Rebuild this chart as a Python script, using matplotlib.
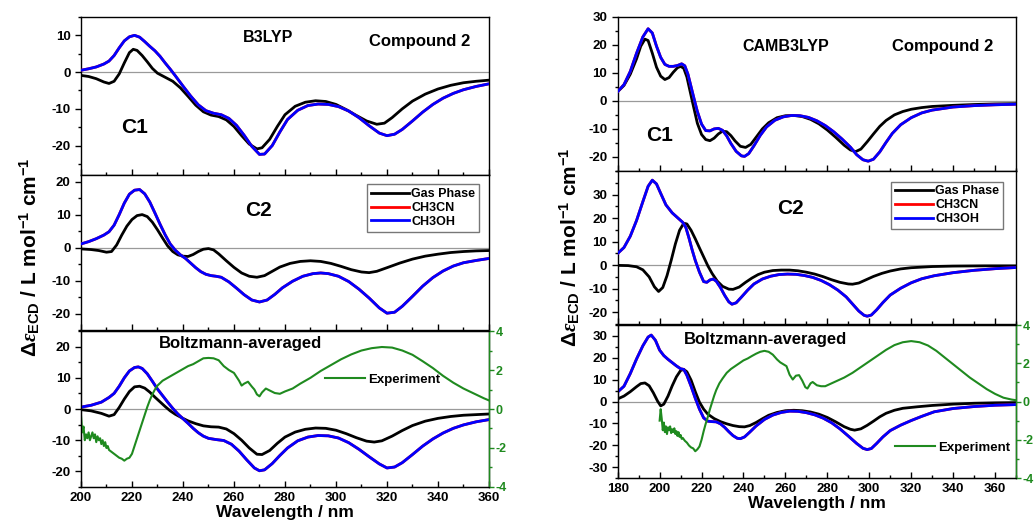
import numpy as np
import matplotlib
matplotlib.use('Agg')
import matplotlib.pyplot as plt
from matplotlib.ticker import MultipleLocator

plt.rcParams['font.family'] = ['Liberation Sans', 'DejaVu Sans']
plt.rcParams['font.weight'] = 'bold'
plt.rcParams['axes.unicode_minus'] = False
plt.rcParams['mathtext.fontset'] = 'custom'
plt.rcParams['mathtext.rm'] = 'Liberation Sans:bold'
plt.rcParams['mathtext.bf'] = 'Liberation Sans:bold'
plt.rcParams['mathtext.it'] = 'Liberation Serif:italic'

# ---------------- B3LYP (left) ----------------
# C1
b3_c1_gas_x = [200, 203, 206, 209, 211, 213, 215, 217, 219, 220.5, 222, 224, 226, 228, 230, 233, 236, 239,
               242, 245, 248, 251, 254, 257, 260, 263, 266, 269, 271, 274, 277, 280, 284, 288, 292, 296,
               300, 304, 308, 312, 316, 319, 322, 326, 330, 335, 340, 345, 350, 355, 360]
b3_c1_gas_y = [-0.9, -1.2, -1.8, -2.7, -3.1, -2.5, -0.5, 2.5, 5.3, 6.2, 5.9, 4.5, 2.8, 1.0, -0.3, -1.4, -2.5, -4.3,
               -6.6, -9.0, -10.8, -11.7, -12.1, -13.0, -14.8, -17.3, -19.6, -20.9, -20.6, -18.3, -14.8, -11.6, -9.3, -8.2, -7.8, -8.0,
               -8.8, -10.2, -11.8, -13.3, -14.2, -13.9, -12.4, -10.0, -7.9, -6.0, -4.6, -3.6, -2.9, -2.5, -2.2]
b3_c1_sol_x = [200, 203, 206, 209, 211, 213, 215, 217, 219, 221, 223, 225, 227, 229, 231, 233, 235, 237, 240,
               243, 246, 249, 252, 255, 258, 261, 264, 267, 270, 272, 275, 278, 281, 285, 289, 293, 297,
               301, 305, 309, 313, 317, 320, 323, 326, 330, 334, 338, 342, 346, 350, 355, 360]
b3_c1_sol_y = [0.5, 0.9, 1.4, 2.2, 3.0, 4.5, 6.6, 8.5, 9.6, 10.0, 9.5, 8.3, 7.0, 5.8, 4.3, 2.5, 0.8, -1.0, -3.8,
               -6.5, -8.9, -10.5, -11.2, -11.6, -12.6, -14.5, -17.2, -20.2, -22.4, -22.3, -20.0, -16.3, -12.9, -10.4, -9.1, -8.7, -8.8,
               -9.4, -10.6, -12.4, -14.6, -16.6, -17.3, -16.9, -15.6, -13.3, -10.9, -8.8, -7.1, -5.8, -4.8, -3.9, -3.2]
# C2
b3_c2_gas_x = [200, 204, 207, 210, 212, 214, 216, 218, 220, 222, 224, 226, 228, 230, 232, 234, 236, 238, 240,
               242, 244, 246, 248, 250, 252, 254, 257, 260, 263, 266, 269, 272, 275, 278, 282, 286, 290, 294,
               298, 302, 306, 310, 313, 316, 320, 325, 330, 335, 340, 345, 350, 355, 360]
b3_c2_gas_y = [-0.4, -0.6, -0.9, -1.4, -1.2, 0.8, 3.8, 6.5, 8.5, 9.7, 10.0, 9.4, 7.7, 5.4, 2.9, 0.5, -1.2, -2.2, -2.6,
               -2.7, -2.1, -1.2, -0.5, -0.3, -0.7, -1.9, -4.0, -6.0, -7.7, -8.7, -9.0, -8.5, -7.2, -5.9, -4.8, -4.2, -4.0, -4.2,
               -4.8, -5.7, -6.7, -7.4, -7.6, -7.2, -6.1, -4.7, -3.5, -2.6, -2.0, -1.5, -1.2, -1.0, -0.9]
b3_c2_sol_x = [200, 203, 206, 209, 211, 213, 215, 217, 219, 221, 223, 225, 227, 229, 231, 233, 235, 237, 239,
               241, 243, 245, 247, 249, 251, 253, 255, 258, 261, 264, 267, 270, 273, 276, 279, 283, 287, 291,
               294, 297, 301, 305, 309, 313, 317, 320, 323, 326, 330, 334, 338, 342, 346, 350, 355, 360]
b3_c2_sol_y = [1.1, 1.8, 2.7, 3.8, 4.8, 6.8, 10.0, 13.5, 16.2, 17.4, 17.6, 16.3, 13.8, 10.5, 7.1, 3.9, 1.1, -0.8, -2.2,
               -3.3, -4.7, -6.1, -7.3, -8.1, -8.5, -8.7, -9.0, -10.4, -12.3, -14.3, -15.9, -16.5, -15.9, -14.2, -12.2, -10.2, -8.7, -7.9,
               -7.7, -7.9, -8.7, -10.3, -12.6, -15.3, -18.3, -19.9, -19.6, -17.8, -14.8, -11.7, -9.1, -7.1, -5.6, -4.6, -3.9, -3.3]
# Boltzmann-averaged
b3_avg_gas_x = [200, 204, 208, 211, 213, 215, 217, 219, 221, 223, 225, 227, 229, 231, 233, 235, 237, 239.5,
                242, 245, 248, 251, 254, 257, 260, 263, 266, 269, 271, 274, 277, 280, 284, 288, 292, 296,
                300, 304, 308, 312, 315, 318, 322, 326, 330, 335, 340, 345, 350, 355, 360]
b3_avg_gas_y = [-0.2, -0.6, -1.4, -2.3, -1.8, 0.5, 3.2, 5.6, 7.1, 7.3, 6.7, 5.4, 3.8, 2.3, 0.8, -0.6, -1.7, -2.8,
                -3.8, -4.7, -5.4, -5.7, -5.8, -6.4, -7.9, -10.0, -12.5, -14.5, -14.6, -13.3, -11.0, -9.0, -7.4, -6.5, -6.1, -6.2,
                -6.8, -7.9, -9.2, -10.3, -10.6, -10.2, -8.7, -6.9, -5.3, -3.9, -3.0, -2.4, -2.0, -1.8, -1.6]
b3_avg_sol_x = [200, 204, 208, 211, 213, 215, 217, 219, 221, 222.5, 224, 226, 228, 230, 232, 234, 236, 238, 240,
                242, 244, 246, 248, 250, 253, 256, 259, 262, 265, 268, 270, 272, 275, 278, 281, 285, 289, 293,
                297, 301, 305, 309, 313, 317, 320, 323, 326, 330, 334, 338, 342, 346, 350, 355, 360]
b3_avg_sol_y = [0.6, 1.2, 2.2, 3.7, 5.0, 7.3, 10.0, 12.2, 13.3, 13.5, 13.0, 11.3, 8.9, 6.4, 4.3, 2.2, 0.2, -1.6, -3.1,
                -4.6, -6.2, -7.6, -8.7, -9.4, -9.8, -10.1, -11.3, -13.5, -16.3, -18.9, -19.8, -19.5, -17.5, -14.9, -12.5, -10.2, -9.0, -8.5,
                -8.6, -9.3, -10.8, -12.9, -15.3, -17.6, -18.9, -18.6, -17.2, -14.6, -11.9, -9.6, -7.7, -6.2, -5.1, -4.1, -3.4]
b3_exp_x = [200, 200.5, 201, 201.5, 202, 202.5, 203, 203.5, 204, 204.5, 205, 205.5, 206, 206.5, 207, 207.5, 208,
            208.5, 209, 209.5, 210, 210.5, 211, 212, 213, 214, 215, 216, 217, 218, 219, 220, 221, 222, 223, 224,
            225, 226, 227, 228, 229, 230, 232, 234, 236, 238, 240, 242, 244, 246, 248, 250, 252, 254, 256, 258,
            260, 262, 263, 264, 265.5, 267, 268, 269, 270, 271, 272.5, 274, 276, 278, 280, 283, 286, 290, 294,
            298, 302, 306, 310, 314, 318, 322, 326, 330, 334, 338, 342, 346, 350, 354, 358, 360]
b3_exp_y = [-0.3, -1.2, -0.9, -1.6, -1.3, -1.5, -1.2, -1.6, -1.4, -1.2, -1.5, -1.3, -1.7, -1.4, -1.6, -1.5, -1.8,
            -1.6, -1.9, -1.7, -2.0, -1.9, -2.1, -2.2, -2.3, -2.4, -2.5, -2.55, -2.65, -2.55, -2.5, -2.3, -1.9, -1.5, -1.1, -0.7,
            -0.3, 0.1, 0.45, 0.75, 1.0, 1.2, 1.45, 1.6, 1.75, 1.9, 2.05, 2.2, 2.3, 2.45, 2.6, 2.62, 2.6, 2.5, 2.2, 2.0,
            1.85, 1.45, 1.2, 1.3, 1.4, 1.15, 1.0, 0.75, 0.65, 0.85, 1.05, 0.95, 0.82, 0.78, 0.9, 1.05, 1.3, 1.6, 1.95,
            2.25, 2.55, 2.8, 3.0, 3.12, 3.18, 3.15, 3.0, 2.78, 2.45, 2.1, 1.7, 1.35, 1.05, 0.8, 0.55, 0.44]

# ---------------- CAMB3LYP (right) ----------------
cam_c1_gas_x = [180, 183, 186, 189, 191, 193, 194.5, 196.5, 198.5, 200.5, 202.5, 204.5, 206.5, 208.5, 210, 211.5,
                213, 214.5, 216, 218, 220, 222, 224, 226, 228, 230, 232, 234, 236, 238.5, 241, 243.5, 246, 249,
                252, 256, 260, 264, 268, 272, 276, 280, 284, 288, 291, 293.5, 296, 299, 302, 305, 308, 312, 316,
                320, 325, 330, 340, 350, 360, 370]
cam_c1_gas_y = [3.3, 5.5, 9.5, 15.0, 19.5, 22.0, 21.5, 17.0, 12.0, 8.8, 7.6, 8.3, 10.2, 11.8, 12.3, 11.6,
                8.5, 3.5, -1.5, -8.0, -12.0, -13.8, -14.2, -13.3, -11.8, -10.8, -11.0, -12.4, -14.3, -16.2, -16.6, -15.5, -13.0, -10.0,
                -7.8, -6.0, -5.3, -5.2, -5.6, -6.6, -8.2, -10.4, -13.0, -15.8, -17.5, -18.1, -17.2, -14.6, -11.8, -9.1, -7.0, -5.0, -3.8,
                -3.0, -2.4, -2.0, -1.6, -1.3, -1.1, -1.0]
cam_c1_sol_x = [180, 183, 186, 189, 192, 194.5, 196.5, 198.5, 200.5, 202.5, 204.5, 206.5, 208.5, 210.5, 212, 213.5,
                215, 216.5, 218, 220, 222, 224, 226, 228, 230, 232, 234, 236.5, 239, 240.5, 242.5, 245, 248, 251,
                255, 259, 263, 267, 271, 275, 279, 283, 287, 291, 294, 297, 299.5, 302, 305, 308, 311, 315, 320,
                325, 330, 340, 350, 360, 370]
cam_c1_sol_y = [3.3, 5.8, 10.5, 17.0, 22.8, 25.7, 24.2, 19.5, 15.5, 13.0, 12.3, 12.3, 12.6, 13.2, 12.5, 9.5,
                5.0, 0.5, -3.8, -8.3, -10.6, -10.7, -10.0, -9.8, -10.5, -12.5, -15.2, -18.0, -19.6, -19.8, -18.8, -16.0, -12.3, -9.3,
                -6.9, -5.7, -5.2, -5.3, -5.9, -7.1, -8.8, -11.0, -13.6, -16.5, -19.2, -21.0, -21.5, -20.8, -18.2, -14.8, -11.6, -8.5, -6.0,
                -4.3, -3.3, -2.2, -1.7, -1.4, -1.2]
cam_c2_gas_x = [180, 185, 189, 192, 195, 197.5, 199.5, 201.5, 203.5, 205.5, 207.5, 209.5, 211.5, 213, 215, 217,
                219, 221, 223, 225, 227.5, 230, 233, 235, 238, 241, 244, 247, 250, 254, 258, 262, 266, 270, 274,
                278, 282, 286, 290, 292, 295, 298, 302, 306, 310, 315, 320, 330, 340, 355, 370]
cam_c2_gas_y = [-0.1, -0.2, -0.7, -2.0, -5.0, -9.2, -11.2, -9.5, -4.5, 2.0, 9.0, 14.8, 17.8, 17.5, 14.8, 11.2,
                7.3, 3.5, -0.3, -3.5, -6.8, -9.0, -10.2, -10.3, -9.3, -7.3, -5.5, -4.0, -3.0, -2.3, -2.1, -2.1, -2.4, -3.0, -3.8,
                -4.9, -6.2, -7.3, -8.0, -8.1, -7.6, -6.4, -4.8, -3.5, -2.5, -1.6, -1.1, -0.6, -0.4, -0.3, -0.3]
cam_c2_sol_x = [180, 183, 186, 189, 192, 194.5, 196.5, 198.5, 200.5, 203, 206, 209, 211, 212.5, 214, 215.5, 217,
                219, 221, 222.5, 224, 225.5, 227, 229, 231, 233, 234.5, 236.5, 239, 242, 245, 249, 253, 257, 261,
                265, 269, 273, 277, 281, 285, 289, 292, 295, 297.5, 299, 301, 303.5, 306.5, 310, 315, 320, 325,
                331, 340, 350, 360, 370]
cam_c2_sol_y = [5.0, 7.5, 12.3, 19.0, 27.0, 33.5, 36.1, 34.5, 30.5, 25.6, 22.2, 19.8, 18.2, 16.0, 11.5, 6.5, 2.0,
                -3.0, -7.0, -7.3, -6.3, -5.9, -6.8, -9.5, -12.8, -15.6, -16.6, -16.0, -13.6, -10.6, -8.0, -5.9, -4.7, -4.0, -3.8,
                -3.9, -4.4, -5.2, -6.5, -8.3, -10.6, -13.5, -16.5, -19.5, -21.3, -21.7, -21.2, -19.0, -15.9, -12.7, -9.8, -7.5, -5.8,
                -4.5, -3.2, -2.2, -1.5, -1.0]
cam_avg_gas_x = [180, 183, 186, 189, 191, 193, 195, 197, 199, 200.5, 202, 204, 206, 208, 210, 211.5, 213, 215,
                 217, 219, 221, 223, 226, 229, 232, 235, 238, 240.5, 243, 246, 249, 252, 256, 260, 264, 268, 272,
                 276, 280, 284, 288, 291, 293, 296, 299, 302, 305, 308, 312, 316, 323, 330, 340, 350, 360, 370]
cam_avg_gas_y = [1.2, 2.5, 4.5, 6.8, 8.2, 8.5, 7.2, 4.0, 0.2, -2.0, -1.2, 2.5, 7.2, 11.3, 14.2, 14.7, 13.6, 9.8,
                 4.5, -0.3, -3.5, -5.8, -7.8, -9.2, -10.2, -11.0, -11.5, -11.6, -11.0, -9.6, -7.9, -6.3, -5.0, -4.2, -4.0, -4.2, -4.8,
                 -5.8, -7.3, -9.3, -11.5, -12.7, -13.1, -12.5, -10.9, -9.0, -7.0, -5.4, -4.0, -3.1, -2.4, -1.8, -1.2, -0.8, -0.6, -0.5]
cam_avg_sol_x = [180, 183, 186, 189, 192, 194.5, 196, 198, 200, 202, 204, 206, 208, 210, 211.5, 213, 215, 217,
                 219, 221, 223, 225, 227, 229, 231, 233, 235, 237, 238.5, 240.5, 243, 246, 250, 254, 258, 262, 266,
                 270, 274, 278, 282, 286, 290, 294, 297, 299, 301, 303.5, 306.5, 310, 315, 320, 325, 331, 340, 350,
                 360, 370]
cam_avg_sol_y = [4.4, 7.0, 12.8, 19.5, 25.5, 29.5, 30.4, 28.0, 23.5, 21.0, 19.3, 17.8, 16.3, 15.0, 14.7, 12.0, 7.0, 1.5,
                 -3.5, -7.5, -9.0, -9.2, -9.3, -10.2, -11.8, -13.8, -15.6, -16.8, -17.0, -16.2, -14.0, -11.2, -8.2, -6.2, -5.0, -4.4, -4.5,
                 -5.1, -6.1, -7.6, -9.7, -12.5, -15.8, -19.2, -21.4, -22.0, -21.5, -19.2, -16.2, -13.3, -10.8, -8.7, -6.8, -4.7, -3.2, -2.3,
                 -1.7, -1.4]
cam_exp_x = [200, 200.5, 201, 201.5, 202, 202.5, 203, 203.5, 204, 204.5, 205, 205.5, 206, 206.5, 207, 207.5, 208,
             208.5, 209, 209.5, 210, 210.5, 211, 212, 213, 214, 215, 216, 217, 218, 219, 220, 221, 222, 223, 224,
             225, 226, 227, 228.5, 230, 232, 234, 236, 238, 240, 242, 244, 246, 248, 250, 252, 254, 256, 257.5,
             259, 260.5, 262, 263.5, 265, 266.5, 268, 269.5, 270.5, 272, 273, 275, 277, 279, 281, 284, 288, 292,
             296, 300, 304, 308, 312, 316, 320, 324, 328, 332, 336, 340, 344, 348, 352, 356, 360, 364, 368, 370]
cam_exp_y = [-1.0, -0.4, -0.9, -1.5, -1.1, -1.6, -1.3, -1.7, -1.35, -1.5, -1.3, -1.65, -1.45, -1.6, -1.4, -1.7, -1.55,
             -1.8, -1.6, -1.85, -1.75, -1.95, -1.9, -2.05, -2.15, -2.3, -2.4, -2.45, -2.6, -2.5, -2.35, -2.0, -1.55, -1.15, -0.8, -0.4,
             -0.05, 0.3, 0.6, 0.95, 1.2, 1.5, 1.7, 1.85, 2.0, 2.15, 2.25, 2.38, 2.5, 2.6, 2.65, 2.6, 2.45, 2.2, 2.05,
             1.95, 1.85, 1.4, 1.15, 1.35, 1.38, 1.1, 0.75, 0.68, 0.95, 1.02, 0.85, 0.8, 0.8, 0.9, 1.05, 1.25, 1.5,
             1.8, 2.1, 2.4, 2.7, 2.95, 3.1, 3.16, 3.1, 2.93, 2.65, 2.3, 1.95, 1.6, 1.25, 0.95, 0.65, 0.4, 0.2, 0.1, 0.07]

GREEN = '#1f8a1f'
LW = 2.0

fig = plt.figure(figsize=(10.34, 5.25), dpi=100)


def bold_ticks(ax):
    for t in ax.get_xticklabels() + ax.get_yticklabels():
        t.set_fontweight('bold')


def style(ax, xlim, ylim, yticks, show_x):
    ax.set_xlim(*xlim)
    ax.set_ylim(*ylim)
    ax.set_yticks(yticks)
    ax.yaxis.set_minor_locator(MultipleLocator(5))
    ax.xaxis.set_major_locator(MultipleLocator(20))
    ax.xaxis.set_minor_locator(MultipleLocator(10))
    ax.tick_params(axis='y', which='both', direction='out', right=False, labelsize=9.5, width=1)
    ax.tick_params(axis='y', which='major', length=4)
    ax.tick_params(axis='y', which='minor', length=2.5)
    ax.tick_params(axis='x', which='both', direction='in', top=False, width=1,
                   labelbottom=show_x, labelsize=9.5)
    ax.tick_params(axis='x', which='major', length=4)
    ax.tick_params(axis='x', which='minor', length=2.5)
    for s in ax.spines.values():
        s.set_linewidth(1.0)
    ax.axhline(0, color='#9a9a9a', lw=0.9, zorder=1)
    bold_ticks(ax)


def curves(ax, gx, gy, sx, sy):
    l1, = ax.plot(gx, gy, color='black', lw=LW, zorder=3)
    l2, = ax.plot(sx, sy, color='red', lw=LW, zorder=3)
    l3, = ax.plot(sx, sy, color='blue', lw=LW, zorder=3)
    return l1, l2, l3


def exp_axis(ax, ex, ey, leg_xy):
    tw = ax.twinx()
    tw.plot(ex, ey, color=GREEN, lw=1.5, label='Experiment')
    tw.set_ylim(-4, 4)
    tw.yaxis.set_major_locator(MultipleLocator(2))
    tw.yaxis.set_minor_locator(MultipleLocator(1))
    tw.tick_params(axis='y', which='both', colors=GREEN, labelsize=9, width=1, pad=1.5)
    tw.tick_params(axis='y', which='major', length=3.5)
    tw.tick_params(axis='y', which='minor', length=2.2)
    tw.spines['right'].set_color(GREEN)
    tw.spines['right'].set_linewidth(1.0)
    tw.legend(loc='center left', bbox_to_anchor=leg_xy, frameon=False, fontsize=9.5,
              handlelength=3.0, handletextpad=0.25, borderpad=0, borderaxespad=0)
    bold_ticks(tw)
    return tw


def panel_text(ax, x, y, s, size):
    ax.text(x, y, s, transform=ax.transAxes, ha='center', va='center',
            fontsize=size, fontweight='bold', zorder=5)


# ---- left column ----
lx, lw_ = 0.0783, 0.3946
axL1 = fig.add_axes([lx, 0.6667, lw_, 0.301])
axL2 = fig.add_axes([lx, 0.3714, lw_, 0.2952])
axL3 = fig.add_axes([lx, 0.0724, lw_, 0.2971])

curves(axL1, b3_c1_gas_x, b3_c1_gas_y, b3_c1_sol_x, b3_c1_sol_y)
style(axL1, (200, 360), (-28, 15), [-20, -10, 0, 10], False)
panel_text(axL1, 0.458, 0.87, 'B3LYP', 11.5)
panel_text(axL1, 0.831, 0.845, 'Compound 2', 12)
panel_text(axL1, 0.132, 0.30, 'C1', 15)

hL = curves(axL2, b3_c2_gas_x, b3_c2_gas_y, b3_c2_sol_x, b3_c2_sol_y)
style(axL2, (200, 360), (-25, 22), [-20, -10, 0, 10, 20], False)
panel_text(axL2, 0.434, 0.774, 'C2', 15)
axL2.legend(hL, ['Gas Phase', 'CH3CN', 'CH3OH'], loc='upper right', bbox_to_anchor=(0.975, 0.94),
            fontsize=9, handlelength=3.0, handletextpad=0.2, labelspacing=0.15, borderpad=0.3,
            borderaxespad=0, fancybox=False, edgecolor='#777777', framealpha=1)

curves(axL3, b3_avg_gas_x, b3_avg_gas_y, b3_avg_sol_x, b3_avg_sol_y)
style(axL3, (200, 360), (-25, 25), [-20, -10, 0, 10, 20], True)
panel_text(axL3, 0.39, 0.917, 'Boltzmann-averaged', 12)
axL3.set_xlabel('Wavelength / nm', fontsize=12.5, fontweight='bold', labelpad=1)
exp_axis(axL3, b3_exp_x, b3_exp_y, (0.598, 0.686))

# ---- right column ----
rx, rw = 0.5974, 0.3852
axR1 = fig.add_axes([rx, 0.6743, rw, 0.2939])
axR2 = fig.add_axes([rx, 0.3829, rw, 0.2914])
axR3 = fig.add_axes([rx, 0.0895, rw, 0.2914])

curves(axR1, cam_c1_gas_x, cam_c1_gas_y, cam_c1_sol_x, cam_c1_sol_y)
style(axR1, (180, 370), (-25, 30), [-20, -10, 0, 10, 20, 30], False)
panel_text(axR1, 0.422, 0.81, 'CAMB3LYP', 11.5)
panel_text(axR1, 0.816, 0.805, 'Compound 2', 12)
panel_text(axR1, 0.105, 0.227, 'C1', 15)

hR = curves(axR2, cam_c2_gas_x, cam_c2_gas_y, cam_c2_sol_x, cam_c2_sol_y)
style(axR2, (180, 370), (-25, 40), [-20, -10, 0, 10, 20, 30], False)
panel_text(axR2, 0.434, 0.758, 'C2', 15)
axR2.legend(hR, ['Gas Phase', 'CH3CN', 'CH3OH'], loc='upper right', bbox_to_anchor=(0.967, 0.93),
            fontsize=9, handlelength=3.0, handletextpad=0.2, labelspacing=0.15, borderpad=0.3,
            borderaxespad=0, fancybox=False, edgecolor='#777777', framealpha=1)

curves(axR3, cam_avg_gas_x, cam_avg_gas_y, cam_avg_sol_x, cam_avg_sol_y)
style(axR3, (180, 370), (-35, 35), [-30, -20, -10, 0, 10, 20, 30], True)
panel_text(axR3, 0.371, 0.907, 'Boltzmann-averaged', 12)
axR3.set_xlabel('Wavelength / nm', fontsize=12.5, fontweight='bold', labelpad=1)
exp_axis(axR3, cam_exp_x, cam_exp_y, (0.696, 0.198))

ylab = r'$\Delta\varepsilon_{\mathbf{ECD}}$ / L mol$^{\mathbf{-1}}$ cm$^{\mathbf{-1}}$'
fig.text(0.029, 0.51, ylab, rotation=90, ha='center', va='center', fontsize=15, fontweight='bold')
fig.text(0.551, 0.53, ylab, rotation=90, ha='center', va='center', fontsize=15, fontweight='bold')

fig.savefig('out.png', dpi=100)
